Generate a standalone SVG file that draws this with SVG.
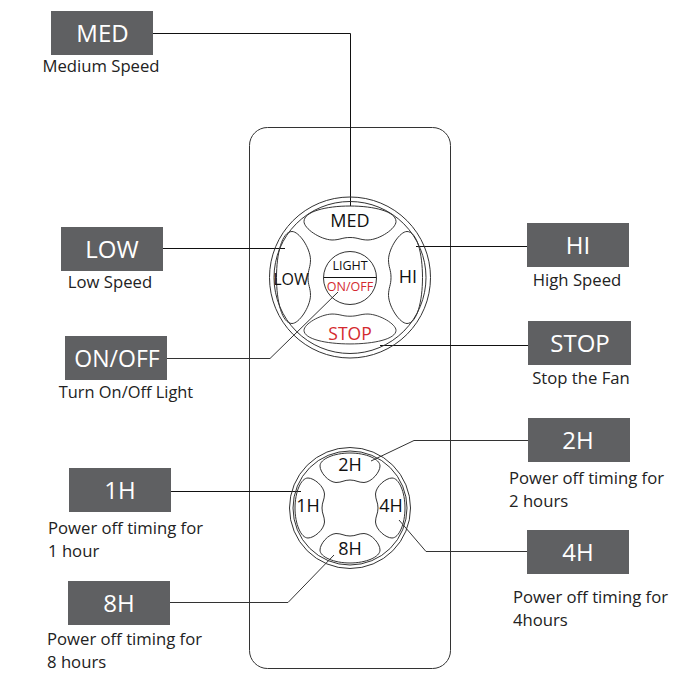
<svg xmlns="http://www.w3.org/2000/svg" width="687" height="683" viewBox="0 0 687 683">
<style>
text{font-family:"Open Sans","Noto Sans","Liberation Sans",sans-serif;text-anchor:middle}
.box{fill:#5f6062}
.bt{fill:#fff;font-size:24px}
.cap{fill:#222;font-size:16.7px}
.capl{fill:#222;font-size:16.7px;text-anchor:start}
.k{fill:#111;font-size:18px}
.r{fill:#d42a2f}
.o{fill:none;stroke:#333;stroke-width:1}
.c{fill:none;stroke:#111;stroke-width:1}
.c2{fill:none;stroke:#333;stroke-width:1}
</style>
<defs>
<path id="bigbtn" d="M-46-56C-46-66-24-71.500 0-71.500 24-71.500 46-66 46-56 46-49 30-38 18-37.500 10-37.500 8-40 0-40-8-40-10-37.500-18-37.500-30-38-46-49-46-56Z"/>
<path id="smallbtn" d="M-30-42C-30-49-16-55 0-55 16-55 30-49 30-42 30-36 22-26 14-25.500 8-25.500 6-28 0-28-6-28-8-25.500-14-25.500-22-26-30-36-30-42Z"/>
</defs>
<rect id="remote" class="o" x="249.500" y="127.500" width="201" height="541" rx="18"/>
<g id="connectors">
<path class="c" d="M153 33.500H350.500V206"/>
<path class="c" d="M163 248.500H285"/>
<path class="c2" d="M167 358.500H270L338 292"/>
<path class="c" d="M527 246.500H416"/>
<path class="c" d="M528 345.500H380"/>
<path class="c2" d="M528 440.500H414L371 461"/>
<path class="c2" d="M527 551.500H426L399 520"/>
<path class="c" d="M171 491.500H301"/>
<path class="c2" d="M170 602.500H288L334 555"/>
</g>
<g id="dial-main">
<circle class="o" cx="350" cy="277.500" r="80.500"/>
<circle class="o" cx="350" cy="277.500" r="76"/>
<use href="#bigbtn" class="o" transform="translate(350 277.500)"/>
<use href="#bigbtn" class="o" transform="translate(350 277.500) rotate(-90) translate(0 -2)"/>
<use href="#bigbtn" class="o" transform="translate(350 277.500) rotate(90) translate(0 -1)"/>
<use href="#bigbtn" class="o" transform="translate(350 277.500) rotate(180) scale(1 .88) translate(0 -4)"/>
<circle class="o" cx="350" cy="278" r="26.500"/>
<path class="c" d="M324 277.500H376"/>
</g>
<g id="dial-timer">
<circle class="o" cx="350" cy="508" r="60.500"/>
<circle class="o" cx="350" cy="508" r="57"/>
<use href="#smallbtn" class="o" transform="translate(350 508)"/>
<use href="#smallbtn" class="o" transform="translate(350 508) rotate(-90)"/>
<use href="#smallbtn" class="o" transform="translate(350 508) rotate(90)"/>
<use href="#smallbtn" class="o" transform="translate(350 508) rotate(180)"/>
</g>
<g id="btn-med"><text class="k" x="350" y="227">MED</text></g>
<g id="btn-low"><text class="k" x="291" y="285" style="font-size:16px">LOW</text></g>
<g id="btn-hi"><text class="k" x="408" y="283">HI</text></g>
<g id="btn-stop"><text class="k r" x="350" y="340" style="font-size:17.5px">STOP</text></g>
<g id="btn-light"><text class="k" x="350" y="270" style="font-size:12.500px">LIGHT</text><text class="k r" x="350" y="291" style="font-size:12.500px">ON/OFF</text></g>
<g id="btn-2h"><text class="k" x="350" y="471">2H</text></g>
<g id="btn-1h"><text class="k" x="308" y="512">1H</text></g>
<g id="btn-4h"><text class="k" x="391" y="512">4H</text></g>
<g id="btn-8h"><text class="k" x="350" y="555">8H</text></g>
<g id="label-med"><rect class="box" x="51" y="11" width="102" height="44"/><text class="bt" x="102.500" y="42">MED</text><text class="cap" x="101" y="72">Medium Speed</text></g>
<g id="label-low"><rect class="box" x="61" y="227" width="102" height="44"/><text class="bt" x="112" y="258">LOW</text><text class="cap" x="110" y="288">Low Speed</text></g>
<g id="label-onoff"><rect class="box" x="65" y="336" width="102" height="44"/><text class="bt" x="117" y="367" style="font-size:23px">ON/OFF</text><text class="cap" x="126" y="398" style="font-size:16.400px">Turn On/Off Light</text></g>
<g id="label-hi"><rect class="box" x="527" y="223" width="102" height="44"/><text class="bt" x="578" y="254">HI</text><text class="cap" x="577" y="286">High Speed</text></g>
<g id="label-stop"><rect class="box" x="528" y="321" width="103" height="44"/><text class="bt" x="580" y="352">STOP</text><text class="cap" x="581" y="384">Stop the Fan</text></g>
<g id="label-2h"><rect class="box" x="528" y="418" width="102" height="44"/><text class="bt" x="578" y="449">2H</text><text class="capl" x="509" y="484">Power off timing for</text><text class="capl" x="509" y="507">2 hours</text></g>
<g id="label-4h"><rect class="box" x="527" y="530" width="102" height="44"/><text class="bt" x="578" y="561">4H</text><text class="capl" x="513" y="603">Power off timing for</text><text class="capl" x="513" y="626">4hours</text></g>
<g id="label-1h"><rect class="box" x="69" y="468" width="102" height="44"/><text class="bt" x="120" y="499">1H</text><text class="capl" x="48" y="534">Power off timing for</text><text class="capl" x="48" y="557">1 hour</text></g>
<g id="label-8h"><rect class="box" x="68" y="581" width="102" height="44"/><text class="bt" x="119" y="612">8H</text><text class="capl" x="47" y="645">Power off timing for</text><text class="capl" x="47" y="668">8 hours</text></g>
</svg>
